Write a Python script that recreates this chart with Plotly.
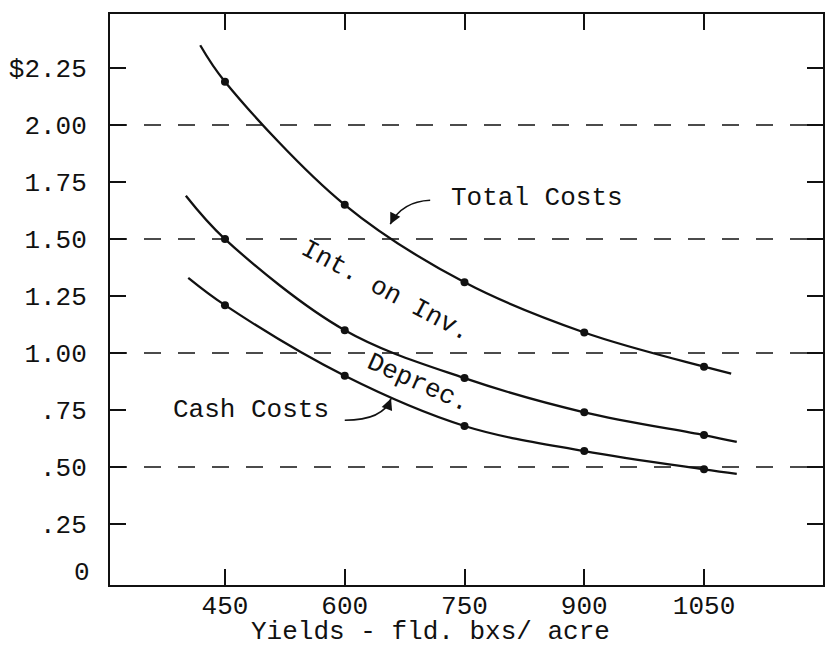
import plotly.graph_objects as go

# ---- data ----
yields = [450, 600, 750, 900, 1050]
total_costs = [2.19, 1.65, 1.31, 1.09, 0.94]
int_on_inv = [1.50, 1.10, 0.89, 0.74, 0.64]
cash_costs = [1.21, 0.90, 0.68, 0.57, 0.49]

# curve extents (drawn line runs a little past the plotted points)
total_line_x = [419, 450, 600, 750, 900, 1050, 1084]
total_line_y = [2.35, 2.19, 1.65, 1.31, 1.09, 0.94, 0.91]
int_line_x = [401, 450, 600, 750, 900, 1050, 1091]
int_line_y = [1.69, 1.50, 1.10, 0.89, 0.74, 0.64, 0.61]
cash_line_x = [404, 450, 600, 750, 900, 1050, 1091]
cash_line_y = [1.33, 1.21, 0.90, 0.68, 0.57, 0.49, 0.47]

y_tick_vals = [0.25, 0.50, 0.75, 1.00, 1.25, 1.50, 1.75, 2.00, 2.25]
y_tick_text = [".25", ".50", ".75", "1.00", "1.25", "1.50", "1.75", "2.00", "$2.25"]
x_tick_vals = [450, 600, 750, 900, 1050]
x_tick_text = ["450", "600", "750", "900", "1050"]
grid_levels = [0.5, 1.0, 1.5, 2.0]

FONT = "Liberation Mono"
INK = "#111111"

fig = go.Figure()

for lx, ly in [(total_line_x, total_line_y), (int_line_x, int_line_y), (cash_line_x, cash_line_y)]:
    fig.add_trace(go.Scatter(x=lx, y=ly, mode="lines",
                             line=dict(color=INK, width=2.3, shape="spline", smoothing=1.0),
                             hoverinfo="skip", showlegend=False))

for ys in [total_costs, int_on_inv, cash_costs]:
    fig.add_trace(go.Scatter(x=yields, y=ys, mode="markers",
                             marker=dict(color=INK, size=8),
                             showlegend=False))

# dashed reference lines
for g in grid_levels:
    fig.add_shape(type="line", xref="paper", x0=0, x1=1, yref="y", y0=g, y1=g,
                  line=dict(color=INK, width=1.6, dash="17px,17px"), layer="below")

# curved leader lines
fig.add_shape(type="path", xref="x", yref="y",
              path="M 707,1.67 Q 672,1.665 657,1.565",
              line=dict(color=INK, width=1.5))
fig.add_shape(type="path", xref="x", yref="y",
              path="M 600,0.705 Q 648,0.705 658,0.80",
              line=dict(color=INK, width=1.5))

ann_font = dict(family=FONT, size=26, color=INK)
fig.add_annotation(x=841, y=1.68, text="Total Costs", showarrow=False, font=ann_font)
fig.add_annotation(x=483, y=0.75, text="Cash Costs", showarrow=False, font=ann_font)
fig.add_annotation(x=651, y=1.27, text="Int. on Inv.", showarrow=False, font=ann_font, textangle=28)
fig.add_annotation(x=692, y=0.87, text="Deprec.", showarrow=False, font=ann_font, textangle=24)

# arrowheads
fig.add_annotation(x=657, y=1.565, ax=5, ay=-10, text="", showarrow=True,
                   arrowhead=2, arrowsize=1.4, arrowwidth=1.6, arrowcolor=INK)
fig.add_annotation(x=658, y=0.80, ax=-4, ay=10, text="", showarrow=True,
                   arrowhead=2, arrowsize=1.4, arrowwidth=1.6, arrowcolor=INK)

# zero label and x title
fig.add_annotation(xref="paper", x=0, y=0, text="0", showarrow=False, font=ann_font,
                   xanchor="right", xshift=-18, yshift=8)
fig.add_annotation(xref="paper", yref="paper", x=0.449, y=-0.083, text="Yields - fld. bxs/ acre",
                   showarrow=False, font=ann_font, yanchor="middle")

axis_common = dict(showline=True, linecolor=INK, linewidth=2, mirror="ticks",
                   ticks="inside", ticklen=16, tickwidth=2, tickcolor=INK,
                   showgrid=False, zeroline=False, automargin=False,
                   tickfont=dict(family=FONT, size=26, color=INK))

fig.update_xaxes(range=[306, 1199], tickvals=x_tick_vals, ticktext=x_tick_text,
                 ticklabelstandoff=-4, **axis_common)
fig.update_yaxes(range=[-0.0175, 2.487], tickvals=y_tick_vals, ticktext=y_tick_text,
                 ticklabelstandoff=16, **axis_common)

# page body has an 8px margin; size the figure to fit the 833x653 window
fig.update_layout(width=817, height=637, margin=dict(l=102, r=2, t=6, b=60),
                  plot_bgcolor="white", paper_bgcolor="white")

fig.write_html("out.html")
